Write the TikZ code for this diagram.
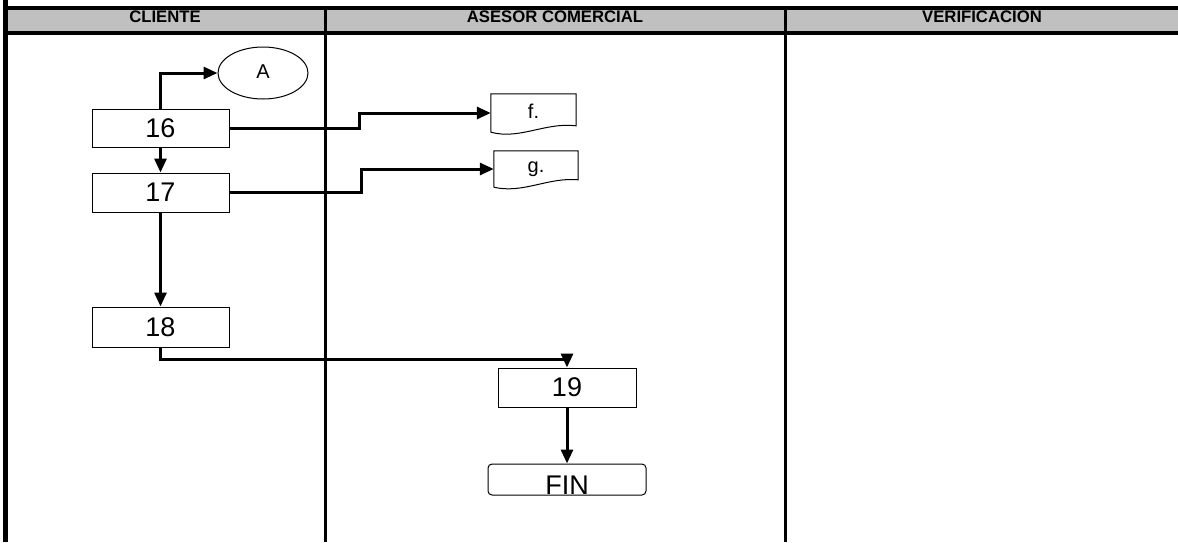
\documentclass[tikz,border=0pt]{standalone}
\usepackage{fontspec}
\setmainfont{Liberation Sans}
\usetikzlibrary{arrows.meta,shapes.geometric,calc}
\definecolor{hdrgray}{HTML}{C0C0C0}
\begin{document}
\begin{tikzpicture}[x=1pt,y=-1pt,
  hdrtext/.style={anchor=base,font=\fontsize{16.7}{18}\selectfont\bfseries,inner sep=0},
  procbox/.style={draw,line width=1pt,minimum width=137pt,minimum height=38pt,inner sep=0,font=\fontsize{27}{30}\selectfont},
  docbox/.style={inner sep=0,font=\fontsize{20}{22}\selectfont},
  conn/.style={line width=3pt,-{Triangle[length=14pt,width=12pt]}},
  frameline/.style={line width=4pt},
  divline/.style={line width=3pt}]
\useasboundingbox (0,0) rectangle (1178,542);
\fill[white] (0,0) rectangle (1178,542);
% header band
\fill[hdrgray] (5,10) rectangle (1178,31);
\node[hdrtext] (hc) at (165,22) {CLIENTE};
\node[hdrtext] (ha) at (555,22) {ASESOR COMERCIAL};
\node[hdrtext] (hv) at (982,22) {VERIFICACION};
\draw[frameline] (3,8) -- (1178,8);
\draw[frameline] (3,33) -- (1178,33);
\draw[line width=5pt] (5.5,0) -- (5.5,542);
\draw[divline] (325,8) -- (325,542);
\draw[divline] (785,8) -- (785,542);
% nodes
\node[draw,ellipse,line width=1pt,minimum width=90pt,minimum height=52pt,inner sep=0,font=\fontsize{20}{22}\selectfont] (A) at (263,73) {\raisebox{3pt}{A}};
\node[procbox] (n16) at (160.5,128) {16};
\node[procbox,minimum height=39pt] (n17) at (160.5,192.5) {17};
\node[procbox,minimum height=40pt] (n18) at (160.5,327) {18};
\node[procbox,minimum width=138pt,minimum height=39pt] (n19) at (567,387.5) {19};
\node[draw,line width=1pt,rounded corners=4pt,minimum width=158pt,minimum height=31pt,inner sep=0] (fin) at (567,479.5) {};
\node[anchor=base,inner sep=0,font=\fontsize{27}{30}\selectfont] (fintxt) at (567,494) {FIN};
% documents
\node[docbox,minimum width=85pt,minimum height=38pt] (fdoc) at (533.5,113) {\raisebox{3pt}{f.}};
\draw[line width=1pt] (fdoc.south west) -- (fdoc.north west) -- (fdoc.north east) -- ($(fdoc.north east)+(0,32)$)
  .. controls (545,122) and (520,140) .. (fdoc.south west);
\node[docbox,minimum width=84pt,minimum height=36pt] (gdoc) at (536,169) {\raisebox{2pt}{g.}};
\draw[line width=1pt] (gdoc.south west) -- (gdoc.north west) -- (gdoc.north east) -- ($(gdoc.north east)+(0,29)$)
  .. controls (548,177) and (523,194) .. (gdoc.south west);
% connectors
\draw[conn] (n16.north) |- (A.west);
\draw[conn] (n16.south) -- (n17.north);
\draw[conn] (n16.east) -- ++(130,0) |- (fdoc.west);
\draw[conn] (n17.east) -- ++(132,0) |- (gdoc.west);
\draw[conn] (n17.south) -- (n18.north);
\draw[conn] (n18.south) |- ($(n19.north)+(0,-8)$) -- (n19.north);
\draw[conn] (n19.south) -- (fin.north);
\end{tikzpicture}
\end{document}
